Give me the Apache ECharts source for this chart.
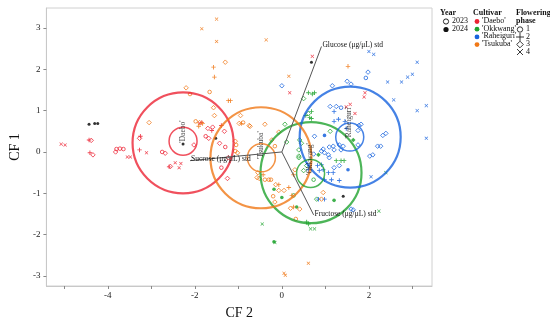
<!DOCTYPE html>
<html><head><meta charset="utf-8">
<script src="https://cdn.jsdelivr.net/npm/echarts@6/dist/echarts.min.js"></script>
<style>html,body{margin:0;padding:0;background:#fff}#c{width:550px;height:325px}</style>
</head><body><div id="c"></div>
<script>
// ---- data ----
const cultivarNames = ["'Daebo'", "'Okkwang'", "'Raheiguri'", "'Tsukuba'"];
const cultivarColors = ['#ec2434', '#1fa32e', '#1763de', '#f07816'];
const xTicks = [-5, -4, -3, -2, -1, 0, 1, 2, 3];
const xLabels = [-4, -2, 0, 2];
const yTicks = [-3, -2, -1, 0, 1, 2, 3];
// [CF2, CF1, floweringPhase, year2024?]
const daebo = [
  [-5.07,0.19,4,0],[-4.98,0.17,4,0],[-4.43,0.29,2,0],[-4.38,0.28,3,0],[-4.41,-0.02,2,0],[-4.34,-0.07,3,0],
  [-3.80,0.07,1,0],[-3.72,0.08,1,0],[-3.64,0.07,1,0],[-3.82,0.0,3,0],[-3.55,-0.12,4,0],[-3.48,-0.12,4,0],
  [-3.25,0.38,2,0],[-3.27,0.33,3,0],[-3.27,0.05,2,0],[-3.11,-0.02,4,0],[-2.75,0.0,1,0],[-2.68,-0.03,3,0],
  [-2.59,-0.36,2,0],[-2.56,-0.35,3,0],[-2.45,-0.26,4,0],[-2.36,-0.38,4,0],[-2.32,-0.28,4,0],[-2.02,0.17,3,0],
  [-1.89,0.69,4,0],[-1.84,0.71,2,0],[-1.70,0.57,3,0],[-1.61,0.52,2,0],[-1.75,0.38,1,0],[-1.68,0.33,3,0],
  [-1.39,0.64,2,0],[-1.32,0.50,3,0],[-1.43,0.21,3,0],[-1.30,0.12,1,0],[-1.23,-0.14,3,0],[-1.39,-0.38,1,0],
  [-1.25,-0.64,3,0],[-1.59,0.60,3,0],[0.18,1.43,4,0],[0.70,2.31,4,0],[1.89,1.33,4,0],[1.91,1.43,4,0],
  [1.48,1.09,4,0],[1.57,1.15,4,0],[1.68,0.93,4,0]
];
const okkwang = [
  [0.61,1.43,2,0],[0.70,1.40,2,0],[0.75,1.43,2,0],[0.50,1.29,3,0],[0.68,0.98,2,0],[0.55,0.88,2,0],
  [0.64,0.83,2,0],[0.68,0.81,2,0],[0.61,0.93,3,0],[0.07,0.67,3,0],[0.41,0.29,3,0],[0.45,0.21,3,0],
  [0.11,0.24,3,0],[0.84,-0.07,3,1],[1.11,0.50,3,0],[1.64,0.29,3,1],[1.25,-0.21,2,0],[1.36,-0.21,2,0],
  [1.43,-0.21,2,0],[0.39,-0.14,3,0],[0.57,-0.33,3,0],[0.50,-0.45,3,0],[0.73,-0.67,1,0],[1.20,-1.17,1,1],
  [0.80,-1.14,3,0],[0.34,-1.33,1,1],[2.23,-1.43,4,0],[2.39,-0.50,4,0],[0.57,-1.69,2,0],[0.61,-1.74,2,0],
  [0.66,-1.86,4,0],[0.75,-1.86,4,0],[0.00,-1.10,1,1],[0.27,-1.05,1,0],[-0.45,-1.74,4,0],[-0.18,-2.17,1,1],
  [-0.16,-2.19,4,0],[-0.18,-0.90,1,1],[0.39,0.05,3,0],[0.39,-0.10,3,0]
];
const raheiguri = [
  [0.00,1.60,3,0],[1.16,1.60,3,0],[1.50,1.71,3,0],[1.59,1.64,3,0],[1.93,1.79,1,0],[1.98,1.93,3,0],
  [2.43,1.69,4,0],[2.75,1.69,4,0],[2.89,1.81,4,0],[3.00,1.88,4,0],[3.11,2.17,4,0],[2.00,2.43,4,0],
  [2.11,2.36,4,0],[2.57,1.26,4,0],[3.11,1.00,4,0],[3.32,1.12,4,0],[3.32,0.33,4,0],[1.11,1.10,3,0],
  [1.25,1.10,3,0],[1.36,1.07,1,0],[1.20,0.98,2,0],[1.30,0.79,2,0],[1.20,0.74,2,0],[1.45,0.74,2,0],
  [1.75,0.52,3,0],[1.82,0.67,3,0],[1.77,0.64,3,0],[0.98,0.40,1,1],[0.75,0.38,3,0],[1.48,0.57,2,0],
  [2.32,0.40,3,0],[2.39,0.45,3,0],[2.20,0.14,3,0],[2.27,0.14,3,0],[2.09,-0.07,3,0],[2.02,-0.10,3,0],
  [1.09,0.12,3,0],[1.18,0.14,3,0],[0.91,0.02,3,0],[0.98,-0.02,3,0],[1.20,0.05,3,0],[1.32,0.17,3,0],
  [1.41,0.14,3,0],[1.07,-0.07,3,0],[1.09,-0.14,3,0],[0.95,0.07,3,0],[1.36,0.05,3,0],[1.75,0.17,3,0],
  [0.82,-0.33,2,0],[0.91,-0.31,2,0],[0.95,-0.43,2,0],[0.86,-0.45,2,0],[1.07,-0.50,2,0],[1.18,-0.50,2,0],
  [1.20,-0.38,3,0],[1.32,-0.33,3,0],[1.52,-0.43,1,1],[1.14,-0.67,2,0],[1.32,-0.69,2,0],[0.98,-0.67,2,0],
  [0.84,-1.14,2,0],[0.98,-1.14,2,1],[1.59,-1.38,3,0],[1.64,-1.40,3,0],[2.05,-0.60,4,0],[0.61,-0.43,2,0],
  [0.64,-0.33,2,0],[0.73,-0.05,3,0]
];
const tsukuba = [
  [-1.50,3.21,4,0],[-1.84,2.98,4,0],[-1.50,2.67,4,0],[-0.36,2.71,4,0],[-1.30,2.17,3,0],[-1.57,2.05,2,0],
  [-1.55,1.81,2,0],[-2.20,1.55,3,0],[-2.11,1.40,1,0],[-1.66,1.45,1,0],[-1.23,1.24,2,0],[-1.18,1.24,2,0],
  [-1.57,1.07,3,0],[-1.55,0.88,3,0],[-3.05,0.71,3,0],[-1.98,0.74,1,0],[-1.89,0.71,3,0],[-1.91,0.62,2,0],
  [-1.82,0.69,2,0],[0.16,1.83,4,0],[1.52,2.07,2,0],[-0.95,0.88,3,0],[-0.73,0.62,3,0],[-0.39,0.67,3,0],
  [-0.98,0.69,3,0],[-0.89,0.71,1,0],[-0.75,0.64,3,0],[-0.07,0.48,3,0],[-0.23,0.29,3,0],[-0.16,0.14,1,0],
  [-1.07,0.26,3,0],[-1.05,0.17,1,0],[-0.93,0.69,2,0],[-1.02,-0.02,3,0],[-1.07,0.02,1,0],[-0.57,-0.62,3,0],
  [-0.43,-0.55,2,0],[-0.39,-0.67,1,0],[-0.30,-0.67,1,0],[-0.25,-0.67,1,0],[-0.55,-0.50,3,0],[-0.52,-0.64,3,0],
  [-0.14,-0.79,3,0],[-0.07,-0.79,2,0],[-0.20,-1.07,1,0],[-0.07,-0.93,3,0],[0.16,-0.86,2,0],[0.23,-1.05,2,0],
  [-0.16,-1.21,3,0],[0.20,-1.36,3,0],[0.27,-1.33,2,0],[0.32,-1.62,1,0],[0.61,-2.69,4,0],[0.05,-2.93,4,0],
  [0.08,-2.98,4,0],[0.95,-0.98,3,0],[0.91,-1.14,3,0],[0.30,-0.43,3,0],[0.27,-0.55,2,0],[0.05,-0.93,3,0],
  [0.41,-1.38,3,0]
];
const blackPoints = [[-4.43,0.67],[-4.30,0.69],[-4.23,0.69],[-2.27,0.19],[-1.52,0.33],[0.68,2.17],[1.41,-1.07]];
// confidence circle centres (order = cultivarNames)
const bigCentres = [[-2.27,0.22],[0.67,-0.50],[1.57,0.36],[-0.48,-0.14]];
const smallCentres = [[-2.27,0.26],[0.66,-0.52],[1.56,0.36],[-0.47,-0.14]];
// biplot rays
const rayNames = ['Glucose (μg/μL) std', 'Sucrose (μg/μL) std', 'Fructose (μg/μL) std'];
const rayEnds = [[0.91,2.55],[-2.11,-0.21],[0.73,-1.52]];

// ---- build ----
const FONT = 'Liberation Serif';
const PLUS = 'path://M-0.2,-1H0.2V-0.2H1V0.2H0.2V1H-0.2V0.2H-1V-0.2H-0.2Z';
const CROSS = 'path://M-1,-0.75L-0.75,-1L0,-0.25L0.75,-1L1,-0.75L0.25,0L1,0.75L0.75,1L0,0.25L-0.75,1L-1,0.75L-0.25,0Z';
function item(p, col) {
  const ph = p[2], filled = p[3] === 1;
  let sym, size, style;
  if (ph === 1) { sym = 'circle'; size = 3.6; style = filled ? {color: col} : {color: 'rgba(255,255,255,0)', borderColor: col, borderWidth: 0.9}; }
  else if (ph === 2) { sym = PLUS; size = 4.5; style = {color: col}; }
  else if (ph === 3) { sym = 'diamond'; size = 4.5; style = filled ? {color: col} : {color: 'rgba(255,255,255,0)', borderColor: col, borderWidth: 0.9}; }
  else { sym = CROSS; size = 3.6; style = {color: col}; }
  style.opacity = 0.85;
  return {value: [p[0], p[1]], symbol: sym, symbolSize: size, itemStyle: style};
}
const groups = [daebo, okkwang, raheiguri, tsukuba];
const series = [];
groups.forEach((g, i) => {
  series.push({type: 'scatter', name: cultivarNames[i], data: g.map(p => item(p, cultivarColors[i])), z: 3, silent: true});
});
series.push({type: 'scatter', data: blackPoints, symbol: 'circle', symbolSize: 3, itemStyle: {color: '#000'}, z: 4, silent: true});
// circles
series.push({type: 'scatter', silent: true, z: 5,
  data: bigCentres.map((c, i) => ({value: c, symbolSize: 101, itemStyle: {color: 'rgba(0,0,0,0)', borderColor: cultivarColors[i], borderWidth: 2.2}})),
  symbol: 'circle'});
series.push({type: 'scatter', silent: true, z: 5,
  data: smallCentres.map((c, i) => ({value: c, symbolSize: 28, itemStyle: {color: 'rgba(0,0,0,0)', borderColor: cultivarColors[i], borderWidth: 1.5}})),
  symbol: 'circle'});
// cultivar labels
series.push({type: 'scatter', silent: true, z: 6, symbolSize: 1, itemStyle: {color: 'rgba(0,0,0,0)'},
  data: smallCentres.map((c, i) => ({value: c, name: cultivarNames[i]})),
  label: {show: true, formatter: '{b}', position: [0, 0], rotate: 90, align: 'left', verticalAlign: 'middle',
    offset: [-2, 0], fontFamily: FONT, fontSize: 7.5, color: '#111'}});
// rays
rayEnds.forEach((e, i) => {
  series.push({type: 'line', silent: true, z: 6, symbol: 'none', data: [[0, 0], e],
    lineStyle: {color: '#555', width: 1},
    endLabel: {show: true, formatter: rayNames[i], fontFamily: FONT, fontSize: 7.5, color: '#111', distance: 1,
      offset: i === 1 ? [0, -2] : [0, -1]}});
});

const lg = [];
function txt(x, y, s, bold) { lg.push({type: 'text', left: x, top: y, style: {text: s, fontFamily: FONT, fontSize: 8, fontWeight: bold ? 'bold' : 'normal', fill: '#111'}}); }
txt(440, 9, 'Year', true);
lg.push({type: 'circle', shape: {cx: 446, cy: 21.5, r: 2.6}, style: {fill: '#fff', stroke: '#111', lineWidth: 0.9}});
txt(452, 17, '2023');
lg.push({type: 'circle', shape: {cx: 446, cy: 29.5, r: 2.6}, style: {fill: '#111'}});
txt(452, 25, '2024');
txt(473, 9, 'Cultivar', true);
cultivarNames.forEach((n, i) => {
  lg.push({type: 'circle', shape: {cx: 477, cy: 21.5 + i * 7.7, r: 2.4}, style: {fill: cultivarColors[i]}});
  txt(482, 17 + i * 7.7, n);
});
txt(516, 9, 'Flowering', true);
txt(516, 17, 'phase', true);
const ly = [29.5, 37, 44.5, 52];
lg.push({type: 'circle', shape: {cx: 520, cy: ly[0], r: 2.7}, style: {fill: '#fff', stroke: '#222', lineWidth: 0.9}});
lg.push({type: 'polyline', shape: {points: [[516, ly[1]], [524, ly[1]]]}, style: {stroke: '#222', lineWidth: 0.9}});
lg.push({type: 'polyline', shape: {points: [[520, ly[1] - 4], [520, ly[1] + 4]]}, style: {stroke: '#222', lineWidth: 0.9}});
lg.push({type: 'polygon', shape: {points: [[520, ly[2] - 3.3], [523.3, ly[2]], [520, ly[2] + 3.3], [516.7, ly[2]]]}, style: {fill: '#fff', stroke: '#222', lineWidth: 0.9}});
lg.push({type: 'polyline', shape: {points: [[517, ly[3] - 3], [523, ly[3] + 3]]}, style: {stroke: '#222', lineWidth: 0.9}});
lg.push({type: 'polyline', shape: {points: [[523, ly[3] - 3], [517, ly[3] + 3]]}, style: {stroke: '#222', lineWidth: 0.9}});
['1', '2', '3', '4'].forEach((s, i) => txt(526, ly[i] - 4.5, s));

const chart = echarts.init(document.getElementById('c'), null, {renderer: 'canvas'});
chart.setOption({
  animation: false,
  backgroundColor: '#fff',
  grid: {left: 42, right: 118, top: 8, bottom: 35, show: true, borderColor: '#d0d0d0', borderWidth: 1},
  xAxis: {type: 'value', min: -5.41, max: 3.45, splitLine: {show: false},
    axisLine: {onZero: false, lineStyle: {color: '#c8c8c8'}},
    axisTick: {customValues: xTicks, length: 3, lineStyle: {color: '#888'}},
    axisLabel: {customValues: xLabels, fontFamily: FONT, fontSize: 9, color: '#222', margin: 5},
    name: 'CF 2', nameLocation: 'middle', nameGap: 20, nameTextStyle: {fontFamily: FONT, fontSize: 14, color: '#111'}},
  yAxis: {type: 'value', min: -3.24, max: 3.48, splitLine: {show: false},
    axisLine: {onZero: false, lineStyle: {color: '#c8c8c8'}},
    axisTick: {customValues: yTicks, length: 3, lineStyle: {color: '#888'}},
    axisLabel: {customValues: yTicks, fontFamily: FONT, fontSize: 9, color: '#222', margin: 6},
    name: 'CF 1', nameLocation: 'middle', nameGap: 22, nameTextStyle: {fontFamily: FONT, fontSize: 14, color: '#111'}},
  graphic: lg,
  series: series
});
</script></body></html>
